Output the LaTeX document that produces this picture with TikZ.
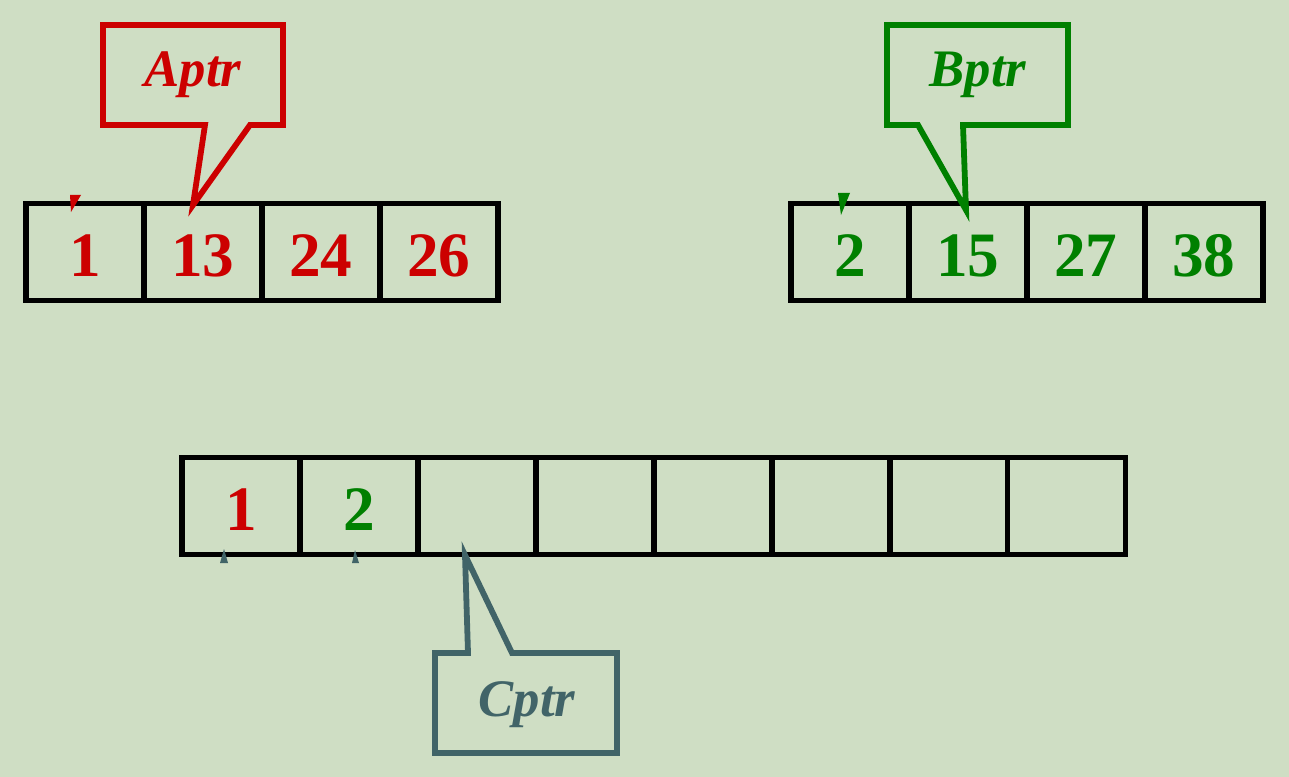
\documentclass[tikz,border=0pt]{standalone}
\usepackage{fontspec}
\setmainfont{Liberation Serif}
\usepackage{tikz}
\usetikzlibrary{positioning}
\definecolor{merge-bg}{HTML}{CFDEC4}
\definecolor{merge-red}{HTML}{CC0000}
\definecolor{merge-green}{HTML}{008000}
\definecolor{merge-slate}{HTML}{416468}

\begin{document}
\begin{tikzpicture}[
    x=0.02cm, y=-0.02cm,
    cell/.style={draw=black, line width=3pt, minimum width=2.36cm,
                 minimum height=1.94cm, inner sep=0pt, outer sep=0pt,
                 text height=1cm, text depth=0pt,
                 font=\fontsize{36}{38}\selectfont\bfseries},
    callout/.style={line width=3.3pt, line join=miter},
    tag/.style={font=\fontsize{30}{32}\selectfont\bfseries\itshape},
]
    \useasboundingbox[fill=merge-bg] (0,0) rectangle (1289,777);

    % Array A
    \node[cell, text=merge-red] (a1) at (85, 252) {1};
    \node[cell, text=merge-red, right=0pt of a1] (a2) {13};
    \node[cell, text=merge-red, right=0pt of a2] (a3) {24};
    \node[cell, text=merge-red, right=0pt of a3] (a4) {26};

    % Array B
    \node[cell, text=merge-green] (b1) at (850, 252) {2};
    \node[cell, text=merge-green, right=0pt of b1] (b2) {15};
    \node[cell, text=merge-green, right=0pt of b2] (b3) {27};
    \node[cell, text=merge-green, right=0pt of b3] (b4) {38};

    % Array C
    \node[cell, text=merge-red] (c1) at (241, 506) {1};
    \node[cell, text=merge-green, right=0pt of c1] (c2) {2};
    \node[cell, right=0pt of c2] (c3) {};
    \node[cell, right=0pt of c3] (c4) {};
    \node[cell, right=0pt of c4] (c5) {};
    \node[cell, right=0pt of c5] (c6) {};
    \node[cell, right=0pt of c6] (c7) {};
    \node[cell, right=0pt of c7] (c8) {};

    % Pointer callouts
    \coordinate (atip) at (193, 205);
    \draw[callout, merge-red] (103,25) -- (283,25) -- (283,125) -- (250,125)
        -- (atip) -- (205,125) -- (103,125) -- cycle;
    \node[tag, text=merge-red] (aptr) at (193, 75) {Aptr};

    \coordinate (btip) at (966, 210);
    \draw[callout, merge-green] (887,25) -- (1068,25) -- (1068,125) -- (963,125)
        -- (btip) -- (918,125) -- (887,125) -- cycle;
    \node[tag, text=merge-green] (bptr) at (978, 75) {Bptr};

    \coordinate (ctip) at (465, 555);
    \draw[callout, merge-slate] (435,753) -- (617,753) -- (617,653) -- (512,653)
        -- (ctip) -- (468,653) -- (435,653) -- cycle;
    \node[tag, text=merge-slate] (cptr) at (527, 705) {Cptr};

    % Old pointer marks
    \fill[merge-red] (70,195) -- (81,195) -- (71,212) -- cycle;
    \fill[merge-green] (838,193) -- (850,193) -- (841,215) -- cycle;
    \fill[merge-slate] (224,549) -- (228,563) -- (220,563) -- cycle;
    \fill[merge-slate] (355,550) -- (359,563) -- (352,563) -- cycle;
\end{tikzpicture}
\end{document}
